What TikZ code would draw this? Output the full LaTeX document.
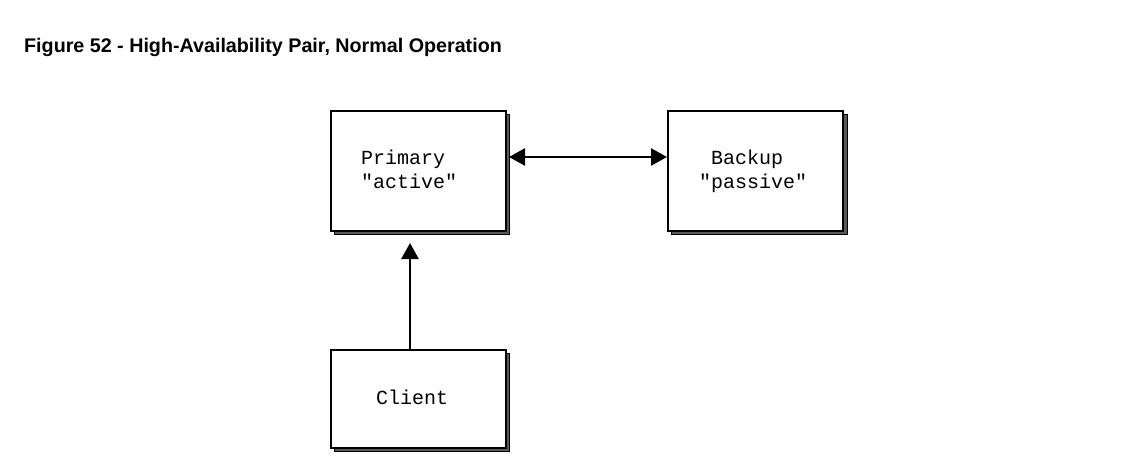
\documentclass[tikz,border=0pt]{standalone}
\usepackage{fontspec}
\setmainfont{Liberation Sans}
\newfontfamily\boxfont{Liberation Mono}
\usetikzlibrary{arrows.meta}
\begin{document}
\begin{tikzpicture}[x=1pt,y=-1pt,
  boxshape/.style={draw=black,line width=2.2pt,fill=white,minimum width=175pt,minimum height=120pt,inner sep=0pt},
  btext/.style={font=\boxfont\fontsize{20}{24}\selectfont,inner sep=0pt,anchor=base west},
  conn/.style={line width=2.5pt,{Triangle[length=16pt,width=17pt]}-{Triangle[length=16pt,width=17pt]}},
  conn1/.style={line width=2.5pt,-{Triangle[length=16pt,width=17pt]}}]
\useasboundingbox (0,0) rectangle (1138,466);
\node[font=\bfseries\fontsize{19.7}{22}\selectfont,anchor=base west,inner sep=0pt] (title) at (24,52) {Figure 52 - High-Availability Pair, Normal Operation};
% shadows
\fill[black!65] (334,114) rectangle (509,234);
\draw[black,line width=0.8pt] (334,114) rectangle (509,234);
\fill[black!65] (671,114) rectangle (847,234);
\draw[black,line width=0.8pt] (671,114) rectangle (847,234);
\fill[black!65] (334,353) rectangle (509,451);
\draw[black,line width=0.8pt] (334,353) rectangle (509,451);
% boxes
\node[boxshape,anchor=north west] (primary) at (330,110) {};
\node[boxshape,anchor=north west] (backup) at (667,110) {};
\node[boxshape,anchor=north west,minimum height=98pt] (client) at (330,349) {};
\node[btext] (p1) at (361,164) {Primary};
\node[btext] (p2) at (361,188) {"active"};
\node[btext] (b1) at (711,164) {Backup};
\node[btext] (b2) at (699,188) {"passive"};
\node[btext] (c1) at (376,404) {Client};
\coordinate (ps) at (509,157);
\coordinate (pb) at (410,243);
\draw[conn] (ps) -- (backup.west |- ps);
\draw[conn1] (client.north -| pb) -- (pb);
\end{tikzpicture}
\end{document}
